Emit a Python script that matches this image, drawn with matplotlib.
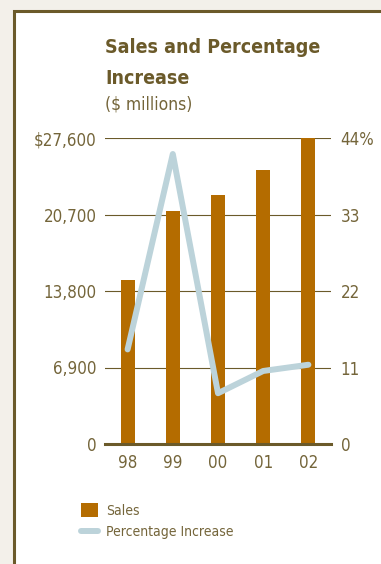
import matplotlib
matplotlib.use("Agg")
import matplotlib.pyplot as plt
from matplotlib.patches import Rectangle, Patch
from matplotlib.lines import Line2D

years = ["98", "99", "00", "01", "02"]
sales = [14800, 21000, 22500, 24700, 27600]
pct_increase = [13.6, 41.7, 7.3, 10.5, 11.4]

sales_ticks = [0, 6900, 13800, 20700, 27600]
sales_tick_labels = ["0", "6,900", "13,800", "20,700", "$27,600"]
pct_ticks = [0, 11, 22, 33, 44]
pct_tick_labels = ["0", "11", "22", "33", "44%"]

OLIVE = "#6b5a2a"
TEXT = "#74653a"
BAR = "#b46c00"
LINE = "#bcd3da"
BG = "#f3f0ea"

plt.rcParams["font.family"] = ["DejaVu Sans"]
plt.rcParams["font.stretch"] = "condensed"

fig = plt.figure(figsize=(3.81, 5.64), dpi=100, facecolor=BG)

# white panel with olive border, running off the right and bottom edges
panel = Rectangle((14 / 381, -0.2), 1.2, (1 - 11 / 564) + 0.2,
                  transform=fig.transFigure, facecolor="white",
                  edgecolor=OLIVE, linewidth=2.2, zorder=-10)
fig.add_artist(panel)

ax = fig.add_axes([105 / 381, 1 - 444 / 564, (331 - 105) / 381, (444 - 138) / 564])
ax.set_facecolor("none")
x = range(len(years))
ax.bar(x, sales, width=0.31, color=BAR, zorder=3)
ax.set_xlim(-0.5, 4.5)
ax.set_ylim(0, 27600)
ax.set_yticks(sales_ticks)
ax.set_yticklabels(sales_tick_labels)
ax.set_xticks(list(x))
ax.set_xticklabels(years)
ax.grid(axis="y", color=OLIVE, linewidth=0.8, zorder=1)
ax.set_axisbelow(True)
for s in ["top", "right", "left"]:
    ax.spines[s].set_visible(False)
ax.spines["bottom"].set_color(OLIVE)
ax.spines["bottom"].set_linewidth(2.2)
ax.spines["bottom"].set_zorder(4)
ax.tick_params(axis="both", length=0, colors=TEXT, labelsize=12.2)
ax.tick_params(axis="y", pad=6)
ax.tick_params(axis="x", pad=7)

ax2 = ax.twinx()
ax2.plot(list(x), pct_increase, color=LINE, linewidth=4.3,
         solid_capstyle="round", solid_joinstyle="round", zorder=5)
ax2.set_ylim(0, 44)
ax2.set_yticks(pct_ticks)
ax2.set_yticklabels(pct_tick_labels)
for s in ["top", "right", "left", "bottom"]:
    ax2.spines[s].set_visible(False)
ax2.tick_params(axis="y", length=0, colors=TEXT, labelsize=12.2, pad=7)

title_kw = dict(ha="left", va="baseline", fontsize=14, fontweight="bold",
                color=OLIVE)
fig.text(105 / 381, 1 - 53 / 564, "Sales and Percentage", **title_kw)
fig.text(105 / 381, 1 - 84 / 564, "Increase", **title_kw)
fig.text(105 / 381, 1 - 110 / 564, "($ millions)", ha="left", va="baseline",
         fontsize=12.5, color=TEXT)

handles = [Patch(facecolor=BAR, edgecolor="none"),
           Line2D([0], [0], color=LINE, linewidth=4.3, solid_capstyle="round")]
fig.legend(handles, ["Sales", "Percentage Increase"], loc="upper left",
           bbox_to_anchor=(77 / 381, 1 - 499 / 564), frameon=False,
           fontsize=10, handlelength=1.22, handleheight=1.15,
           handletextpad=0.55, labelspacing=0.5, labelcolor=TEXT,
           borderaxespad=0, borderpad=0.3)

fig.savefig("out.png", dpi=100, facecolor=BG)
